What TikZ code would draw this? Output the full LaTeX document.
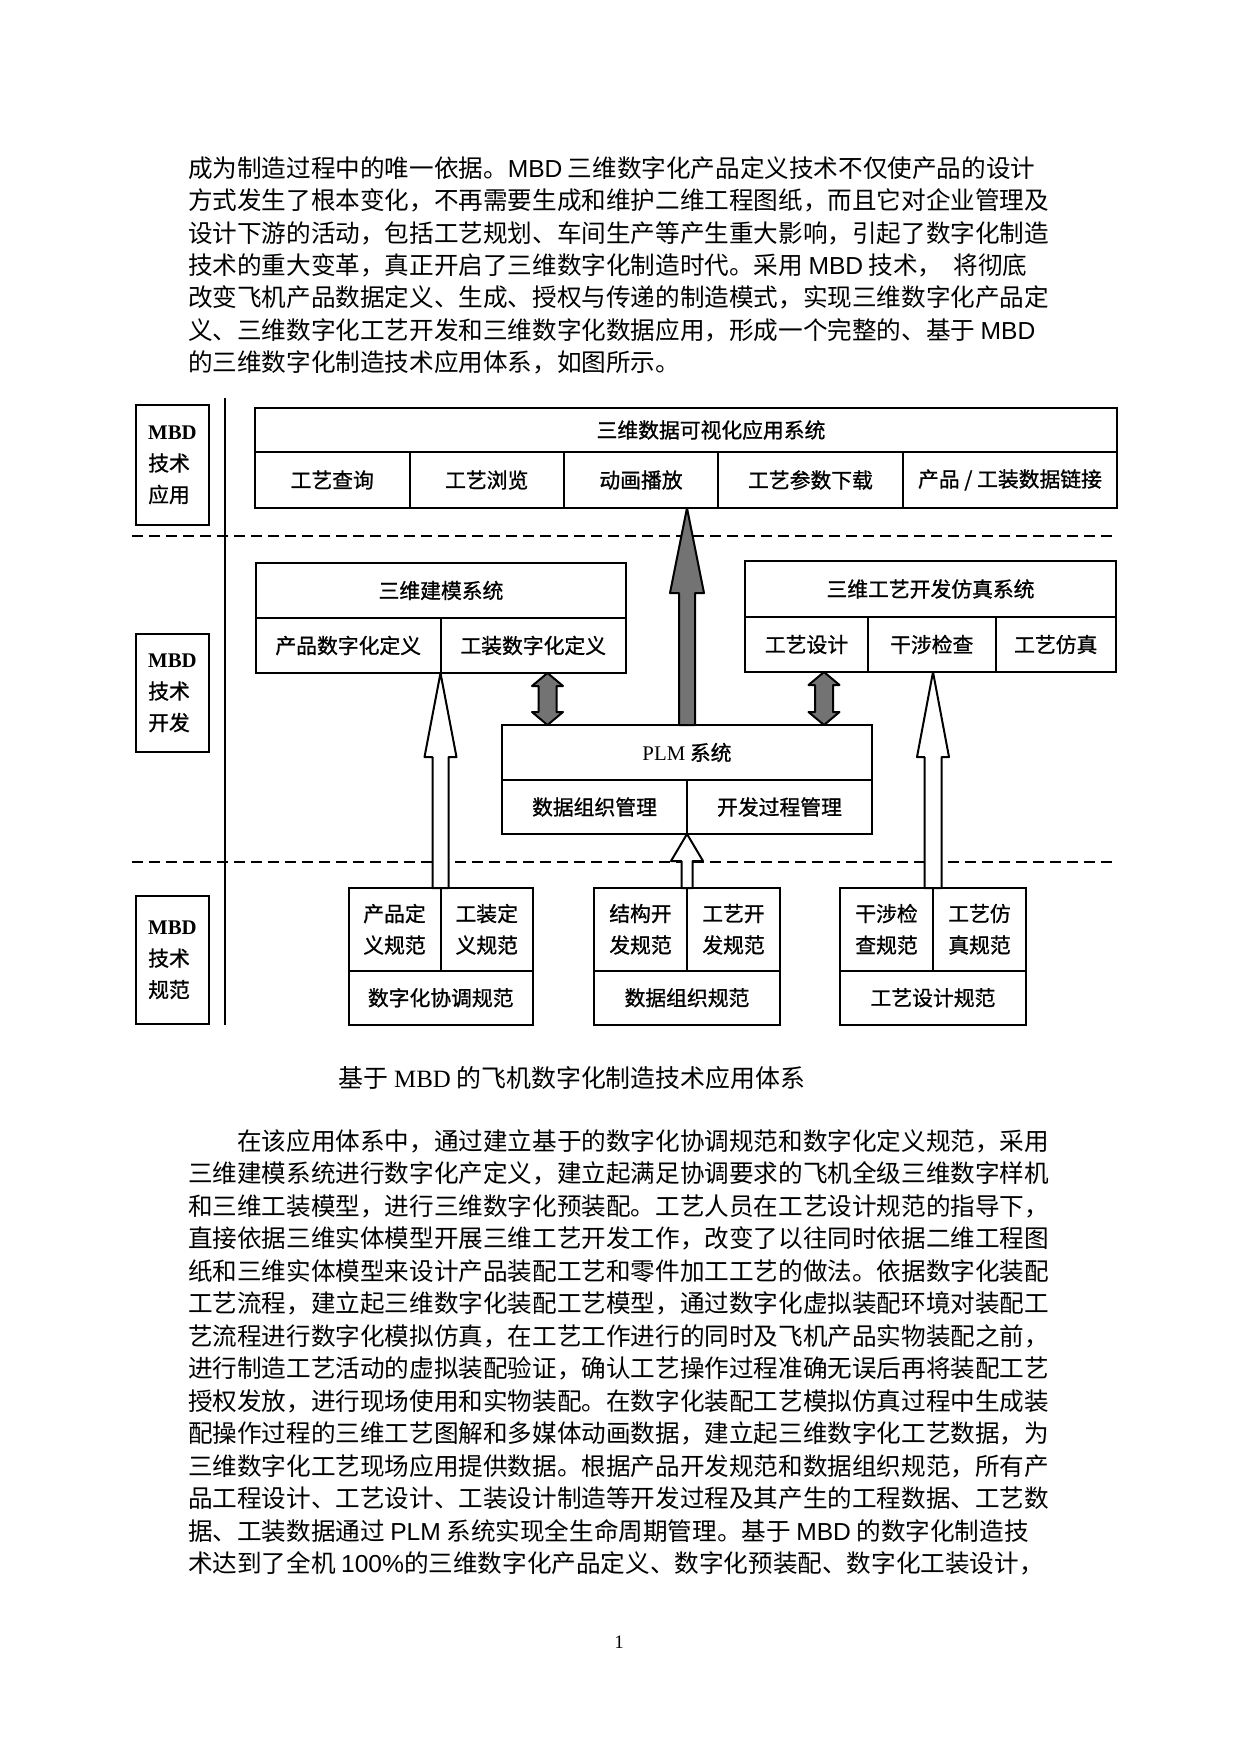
\documentclass[tikz,border=0pt]{standalone}
\usepackage{fontspec}
\setmainfont{Liberation Serif}
\newfontfamily\cjkfont{Noto Sans CJK SC}
\newfontfamily\cjkbold[FakeBold=1]{Noto Sans CJK SC}
\newfontfamily\latfont{Liberation Sans}
\usetikzlibrary{
  calc,
  positioning
}
\XeTeXlinebreaklocale "zh"
\XeTeXlinebreakskip=0pt plus 1pt
\tolerance=2000
\newcommand{\bodysize}{\fontsize{24.6}{32.45}\selectfont}
\newcommand{\diagsize}{\fontsize{20.8}{31.5}\selectfont}
\newcommand{\lat}[1]{{\latfont #1}}
\newcommand{\tms}[1]{{\rmfamily #1}}
\newcommand{\fullline}[1]{\parfillskip=0pt\relax #1}
% block arrow pointing up: style, foot, tip, half shaft, half head, head length
\newcommand{\blockarrow}[6]{%
  \draw[#1] ($(#2)+(-#4,0)$) -- ($(#3)+(-#4,#6)$) -- ($(#3)+(-#5,#6)$) -- (#3)
    -- ($(#3)+(#5,#6)$) -- ($(#3)+(#4,#6)$) -- ($(#2)+(#4,0)$) -- cycle;}
% two-headed block arrow: top, bottom
\newcommand{\dblarrow}[2]{%
  \draw[grayarrow] (#1) -- ($(#1)+(15.5,13)$) -- ($(#1)+(9,13)$) -- ($(#2)+(9,-13)$)
    -- ($(#2)+(15.5,-13)$) -- (#2) -- ($(#2)+(-15.5,-13)$) -- ($(#2)+(-9,-13)$)
    -- ($(#1)+(-9,13)$) -- ($(#1)+(-15.5,13)$) -- cycle;}
\tikzset{
bodyline/.style={
  anchor=west,
  inner sep=0pt,
  outer sep=0pt,
  text width=864pt,
  align=justify,
  font=\cjkfont\bodysize
},
cell/.style={
  draw,
  line width=2pt,
  inner sep=0pt,
  outer sep=0pt,
  align=center,
  font=\cjkbold\diagsize
},
wh/.style 2 args={
  minimum width=#1pt,
  minimum height=#2pt
},
sidebox/.style={
  cell,
  align=left
},
celltext/.style={
  inner sep=0pt,
  font=\cjkbold\diagsize
},
sep/.style={
  line width=2pt
},
sepdash/.style={
  line width=2pt,
  dash pattern=on 11pt off 6pt
},
hollow/.style={
  draw,
  line width=2pt,
  line join=round,
  fill=white
},
bigarrow/.style={
  hollow,
  fill=black!55
},
grayarrow/.style={
  hollow,
  fill=black!55
}
}

\begin{document}
\begin{tikzpicture}[x=1pt,y=-1pt]
  \useasboundingbox (0,0) rectangle (1241,1754);
  \fill[white] (0,0) rectangle (1241,1754);

  % text above the figure
  \node[bodyline] (ta1) at (188,168.0) {\fullline{成为制造过程中的唯一依据。\lat{MBD} 三维数字化产品定义技术不仅使产品的设计}};
  \node[bodyline] (ta2) at (188,200.4) {\fullline{方式发生了根本变化，不再需要生成和维护二维工程图纸，而且它对企业管理及}};
  \node[bodyline] (ta3) at (188,232.9) {\fullline{设计下游的活动，包括工艺规划、车间生产等产生重大影响，引起了数字化制造}};
  \node[bodyline] (ta4) at (188,265.3) {\fullline{技术的重大变革，真正开启了三维数字化制造时代。采用 \lat{MBD} 技术，\ \ 将彻底}};
  \node[bodyline] (ta5) at (188,297.8) {\fullline{改变飞机产品数据定义、生成、授权与传递的制造模式，实现三维数字化产品定}};
  \node[bodyline] (ta6) at (188,330.2) {\fullline{义、三维数字化工艺开发和三维数字化数据应用，形成一个完整的、基于 \lat{MBD}}};
  \node[bodyline] (ta7) at (188,362.7) {的三维数字化制造技术应用体系，如图所示。};

  % separators
  \draw[sep] (225,398) -- (225,1025);
  \draw[sepdash] (132,536) -- (1117,536);
  \draw[sepdash] (132,862) -- (1117,862);

  % layer labels
  \node[sidebox, wh={73}{120}, anchor=north west] (labApp) at (136,405) {\tms{\bfseries MBD}\\技术\\应用};
  \node[sidebox, wh={73}{118}, anchor=north west] (labDev) at (136,634) {\tms{\bfseries MBD}\\技术\\开发};
  \node[sidebox, wh={73}{128}, anchor=north west] (labSpec) at (136,896) {\tms{\bfseries MBD}\\技术\\规范};

  % application layer
  \node[cell, wh={862}{44}, anchor=north west] (visSys) at (255,408) {};
  \node[celltext] (visTitle) at ($(visSys.center)+(25,0)$) {三维数据可视化应用系统};
  \node[cell, wh={154.5}{56}, anchor=north west] (visQuery) at (255,452) {工艺查询};
  \node[cell, wh={154.5}{56}, right=0pt of visQuery] (visBrowse) {工艺浏览};
  \node[cell, wh={154}{56}, right=0pt of visBrowse] (visAnim) {动画播放};
  \node[cell, wh={185}{56}, right=0pt of visAnim] (visLoad) {工艺参数下载};
  \node[cell, wh={214}{56}, right=0pt of visLoad] (visLink) {产品 / 工装数据链接};

  % development layer
  \node[cell, wh={370}{55}, anchor=north west] (mdlSys) at (256,563) {三维建模系统};
  \node[cell, wh={184.5}{55}, anchor=north west] (mdlProd) at (256,618) {产品数字化定义};
  \node[cell, wh={185.5}{55}, right=0pt of mdlProd] (mdlTool) {工装数字化定义};

  \node[cell, wh={371}{56}, anchor=north west] (simSys) at (745,561) {三维工艺开发仿真系统};
  \node[cell, wh={123}{55}, anchor=north west] (simDes) at (745,617) {工艺设计};
  \node[cell, wh={127.5}{55}, right=0pt of simDes] (simChk) {干涉检查};
  \node[cell, wh={120.5}{55}, right=0pt of simChk] (simSim) {工艺仿真};

  \node[cell, wh={370}{55}, anchor=north west] (plmSys) at (502,725) {\tms{PLM} 系统};
  \node[cell, wh={185}{54}, anchor=north west] (plmData) at (502,780) {数据组织管理};
  \node[cell, wh={185}{54}, right=0pt of plmData] (plmProc) {开发过程管理};

  % specification layer
  \node[cell, wh={92}{82.5}, anchor=north west] (specProd) at (348.5,888) {产品定\\义规范};
  \node[cell, wh={92.5}{82.5}, right=0pt of specProd] (specTool) {工装定\\义规范};
  \node[cell, wh={184.5}{54.5}, anchor=north west] (specCoord) at (348.5,970.5) {数字化协调规范};
  \node[cell, wh={93}{82.5}, anchor=north west] (specStr) at (594,888) {结构开\\发规范};
  \node[cell, wh={93}{82.5}, right=0pt of specStr] (specProc) {工艺开\\发规范};
  \node[cell, wh={186}{54.5}, anchor=north west] (specData) at (594,970.5) {数据组织规范};
  \node[cell, wh={93}{82.5}, anchor=north west] (specChk) at (840,888) {干涉检\\查规范};
  \node[cell, wh={93}{82.5}, right=0pt of specChk] (specSim) {工艺仿\\真规范};
  \node[cell, wh={186}{54.5}, anchor=north west] (specDes) at (840,970.5) {工艺设计规范};

  % arrows
  \coordinate (bigTip) at (plmSys.north |- visAnim.south);
  \blockarrow{bigarrow}{plmSys.north}{bigTip}{8}{17}{85}
  \coordinate (lfTip) at (specProd.north east |- mdlProd.south);
  \blockarrow{hollow}{specProd.north east}{lfTip}{8}{16}{84}
  \coordinate (midTip) at (specStr.north east |- plmData.south);
  \blockarrow{hollow}{specStr.north east}{midTip}{5.5}{16}{27}
  \coordinate (rtTip) at (specChk.north east |- simChk.south);
  \blockarrow{hollow}{specChk.north east}{rtTip}{8.5}{16}{85}
  \coordinate (dlBot) at ($(plmSys.north west)+(45.5,0)$);
  \coordinate (dlTop) at (dlBot |- mdlTool.south);
  \dblarrow{dlTop}{dlBot}
  \coordinate (drBot) at ($(plmSys.north east)+(-48,0)$);
  \coordinate (drTop) at (drBot |- simDes.south);
  \dblarrow{drTop}{drBot}

  % caption
  \node[font=\cjkfont\fontsize{24.9}{28}\selectfont] (caption) at (572,1078) {基于 \tms{MBD} 的飞机数字化制造技术应用体系};

  % text below the figure
  \node[bodyline] (tb1) at (188,1141.4) {\fullline{\hspace*{2em}在该应用体系中，通过建立基于的数字化协调规范和数字化定义规范，采用}};
  \node[bodyline] (tb2) at (188,1173.8) {\fullline{三维建模系统进行数字化产定义，建立起满足协调要求的飞机全级三维数字样机}};
  \node[bodyline] (tb3) at (188,1206.3) {\fullline{和三维工装模型，进行三维数字化预装配。工艺人员在工艺设计规范的指导下，}};
  \node[bodyline] (tb4) at (188,1238.7) {\fullline{直接依据三维实体模型开展三维工艺开发工作，改变了以往同时依据二维工程图}};
  \node[bodyline] (tb5) at (188,1271.2) {\fullline{纸和三维实体模型来设计产品装配工艺和零件加工工艺的做法。依据数字化装配}};
  \node[bodyline] (tb6) at (188,1303.6) {\fullline{工艺流程，建立起三维数字化装配工艺模型，通过数字化虚拟装配环境对装配工}};
  \node[bodyline] (tb7) at (188,1336.1) {\fullline{艺流程进行数字化模拟仿真，在工艺工作进行的同时及飞机产品实物装配之前，}};
  \node[bodyline] (tb8) at (188,1368.5) {\fullline{进行制造工艺活动的虚拟装配验证，确认工艺操作过程准确无误后再将装配工艺}};
  \node[bodyline] (tb9) at (188,1401.0) {\fullline{授权发放，进行现场使用和实物装配。在数字化装配工艺模拟仿真过程中生成装}};
  \node[bodyline] (tb10) at (188,1433.4) {\fullline{配操作过程的三维工艺图解和多媒体动画数据，建立起三维数字化工艺数据，为}};
  \node[bodyline] (tb11) at (188,1465.9) {\fullline{三维数字化工艺现场应用提供数据。根据产品开发规范和数据组织规范，所有产}};
  \node[bodyline] (tb12) at (188,1498.3) {\fullline{品工程设计、工艺设计、工装设计制造等开发过程及其产生的工程数据、工艺数}};
  \node[bodyline] (tb13) at (188,1530.8) {\fullline{据、工装数据通过 \lat{PLM} 系统实现全生命周期管理。基于 \lat{MBD} 的数字化制造技}};
  \node[bodyline] (tb14) at (188,1563.2) {\fullline{术达到了全机 \lat{100\%}的三维数字化产品定义、数字化预装配、数字化工装设计，}};

  % page number
  \node[font=\rmfamily\fontsize{19}{22}\selectfont] (pageNo) at (619,1642) {1};
\end{tikzpicture}
\end{document}
